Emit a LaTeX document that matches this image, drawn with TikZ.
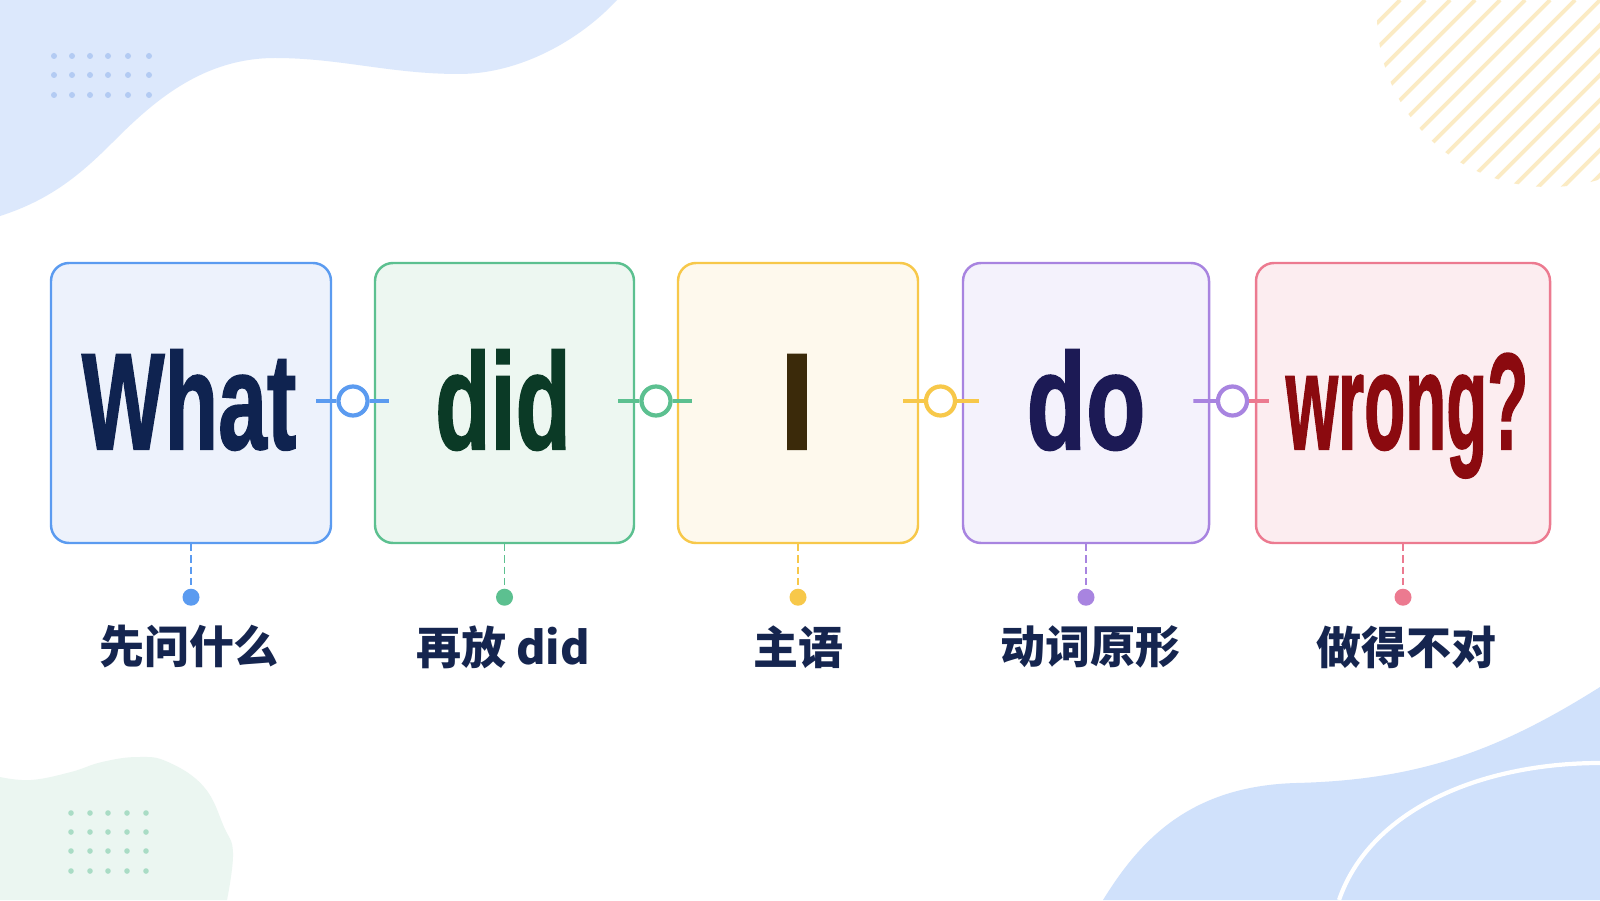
\documentclass[tikz,border=0pt]{standalone}
\usepackage{fontspec}
\usepackage{graphicx}
\setmainfont{Liberation Sans}
\newfontfamily\wordfont{Liberation Sans}[BoldFeatures={FakeBold=1.5}]
\newfontfamily\cjk{Noto Sans CJK SC}

\definecolor{blobblue}{HTML}{DCE8FC}
\definecolor{dotblue}{HTML}{B3CBF3}
\definecolor{blobmint}{HTML}{EBF6F1}
\definecolor{dotmint}{HTML}{A9DCC5}
\definecolor{stripeyellow}{HTML}{FBEBC4}
\definecolor{blobsky}{HTML}{D0E1FB}
\definecolor{blueline}{HTML}{5B9BF0}
\definecolor{bluefill}{HTML}{EDF2FC}
\definecolor{greenline}{HTML}{5CC090}
\definecolor{greenfill}{HTML}{EDF7F1}
\definecolor{yellowline}{HTML}{F7C84A}
\definecolor{yellowfill}{HTML}{FEF9ED}
\definecolor{purpleline}{HTML}{A884E0}
\definecolor{purplefill}{HTML}{F4F2FC}
\definecolor{pinkline}{HTML}{EC7A90}
\definecolor{pinkfill}{HTML}{FCEDF0}
\definecolor{whatink}{HTML}{0F2350}
\definecolor{didink}{HTML}{0B3A26}
\definecolor{iink}{HTML}{3B2A0A}
\definecolor{doink}{HTML}{1C1A55}
\definecolor{wrongink}{HTML}{8B0A0F}
\definecolor{tagink}{HTML}{15254F}

\newcommand{\wordfit}[2]{\scalebox{#1}[1]{\wordfont\fontsize{39pt}{39pt}\selectfont\bfseries #2}}

\tikzset{
  wordbox/.style={draw, rounded corners=0.18cm, line width=0.7pt, minimum height=2.8cm, inner sep=0pt},
  bigtext/.style={anchor=base, inner sep=0pt},
  hub/.style={circle, draw, fill=white, line width=1.2pt, minimum size=0.29cm, inner sep=0pt},
  link/.style={line width=1pt},
  drop/.style={line width=0.45pt, dash pattern=on 2pt off 1.2pt},
  pin/.style={circle, fill, minimum size=0.17cm, inner sep=0pt},
  tag/.style={font=\cjk\bfseries\fontsize{12.8pt}{15pt}\selectfont, text=tagink, inner sep=0pt},
  stripe/.style={stripeyellow, line width=1.1pt},
}

\begin{document}
\begin{tikzpicture}
        \useasboundingbox (0,0) rectangle (16,9);
        \fill[white] (0,0) rectangle (16,9);

        % background shapes
        \fill[blobblue] (0,6.84) .. controls (0.5,7.0) and (0.8,7.25) .. (1.12,7.57) .. controls (1.5,7.95) and (2.0,8.42) .. (2.75,8.42) .. controls (3.4,8.42) and (3.9,8.26) .. (4.59,8.26) .. controls (5.2,8.26) and (5.8,8.6) .. (6.17,9) -- (0,9) -- cycle;
        \fill[dotblue] (0.54,8.44) circle (0.03) (0.72,8.44) circle (0.03) (0.90,8.44) circle (0.03) (1.08,8.44) circle (0.03) (1.28,8.44) circle (0.03) (1.49,8.44) circle (0.03);
        \fill[dotblue] (0.54,8.25) circle (0.03) (0.72,8.25) circle (0.03) (0.90,8.25) circle (0.03) (1.08,8.25) circle (0.03) (1.28,8.25) circle (0.03) (1.49,8.25) circle (0.03);
        \fill[dotblue] (0.54,8.05) circle (0.03) (0.72,8.05) circle (0.03) (0.90,8.05) circle (0.03) (1.08,8.05) circle (0.03) (1.28,8.05) circle (0.03) (1.49,8.05) circle (0.03);

        \begin{scope}
            \clip (15.49,8.85) circle (1.72);
            \draw[stripe] (11.75,7) -- ++(2,2) (12,7) -- ++(2,2) (12.25,7) -- ++(2,2) (12.5,7) -- ++(2,2) (12.75,7) -- ++(2,2) (13,7) -- ++(2,2);
            \draw[stripe] (13.25,7) -- ++(2,2) (13.5,7) -- ++(2,2) (13.75,7) -- ++(2,2) (14,7) -- ++(2,2) (14.25,7) -- ++(2,2) (14.5,7) -- ++(2,2);
            \draw[stripe] (14.75,7) -- ++(2,2) (15,7) -- ++(2,2) (15.25,7) -- ++(2,2) (15.5,7) -- ++(2,2) (15.75,7) -- ++(2,2);
        \end{scope}

        \fill[blobmint] plot[smooth, tension=0.7] coordinates {(0,1.23) (0.31,1.20) (0.71,1.28) (1.02,1.38) (1.38,1.43) (1.68,1.38) (2.04,1.13) (2.24,0.73) (2.33,0.47) (2.27,0)} -- (0,0) -- cycle;
        \fill[dotmint] (0.71,0.87) circle (0.028) (0.90,0.87) circle (0.028) (1.08,0.87) circle (0.028) (1.27,0.87) circle (0.028) (1.46,0.87) circle (0.028);
        \fill[dotmint] (0.71,0.68) circle (0.028) (0.90,0.68) circle (0.028) (1.08,0.68) circle (0.028) (1.27,0.68) circle (0.028) (1.46,0.68) circle (0.028);
        \fill[dotmint] (0.71,0.49) circle (0.028) (0.90,0.49) circle (0.028) (1.08,0.49) circle (0.028) (1.27,0.49) circle (0.028) (1.46,0.49) circle (0.028);
        \fill[dotmint] (0.71,0.29) circle (0.028) (0.90,0.29) circle (0.028) (1.08,0.29) circle (0.028) (1.27,0.29) circle (0.028) (1.46,0.29) circle (0.028);

        \fill[blobsky] (16,2.13) .. controls (15.0,1.5) and (14.2,1.2) .. (12.96,1.17) .. controls (11.9,1.14) and (11.4,0.6) .. (11.03,0) -- (16,0) -- cycle;
        \draw[white, line width=1.2pt] (16,1.37) .. controls (14.8,1.37) and (13.7,0.9) .. (13.39,0);

        % word boxes
        \node[wordbox, draw=blueline, fill=bluefill, minimum width=2.80cm] (b1) at (1.91,4.97) {};
        \node[wordbox, draw=greenline, fill=greenfill, minimum width=2.59cm] (b2) at (5.045,4.97) {};
        \node[wordbox, draw=yellowline, fill=yellowfill, minimum width=2.40cm] (b3) at (7.98,4.97) {};
        \node[wordbox, draw=purpleline, fill=purplefill, minimum width=2.46cm] (b4) at (10.86,4.97) {};
        \node[wordbox, draw=pinkline, fill=pinkfill, minimum width=2.94cm] (b5) at (14.03,4.97) {};

        \node[bigtext, text=whatink] (t1) at (1.89,4.51) {\wordfit{0.64}{What}};
        \node[bigtext, text=didink] (t2) at (5.03,4.51) {\wordfit{0.66}{did}};
        \node[bigtext, text=iink] (t3) at (7.97,4.51) {\wordfit{0.9}{I}};
        \node[bigtext, text=doink] (t4) at (10.86,4.51) {\wordfit{0.71}{do}};
        \node[bigtext, text=wrongink] (t5) at (14.07,4.51) {\wordfit{0.49}{wrong?}};

        % connectors
        \node[hub, draw=blueline] (h1) at (3.53,4.99) {};
        \node[hub, draw=greenline] (h2) at (6.56,4.99) {};
        \node[hub, draw=yellowline] (h3) at (9.405,4.99) {};
        \node[hub, draw=purpleline] (h4) at (12.325,4.99) {};

        \draw[link, blueline] ([xshift=-0.16cm,yshift=0.02cm]b1.east) -- (h1);
        \draw[link, blueline] (h1) -- ([xshift=0.15cm,yshift=0.02cm]b2.west);
        \draw[link, greenline] ([xshift=-0.17cm,yshift=0.02cm]b2.east) -- (h2);
        \draw[link, greenline] (h2) -- ([xshift=0.15cm,yshift=0.02cm]b3.west);
        \draw[link, yellowline] ([xshift=-0.16cm,yshift=0.02cm]b3.east) -- (h3);
        \draw[link, yellowline] (h3) -- ([xshift=0.17cm,yshift=0.02cm]b4.west);
        \draw[link, purpleline] ([xshift=-0.17cm,yshift=0.02cm]b4.east) -- (h4);
        \draw[link, pinkline] (h4) -- ([xshift=0.14cm,yshift=0.02cm]b5.west);

        % pins and tags
        \node[pin, blueline] (p1) at ([yshift=-0.53cm]b1.south) {};
        \node[pin, greenline] (p2) at ([yshift=-0.53cm]b2.south) {};
        \node[pin, yellowline] (p3) at ([yshift=-0.53cm]b3.south) {};
        \node[pin, purpleline] (p4) at ([yshift=-0.53cm]b4.south) {};
        \node[pin, pinkline] (p5) at ([yshift=-0.53cm]b5.south) {};

        \draw[drop, blueline] (b1.south) -- (p1);
        \draw[drop, greenline] (b2.south) -- (p2);
        \draw[drop, yellowline] (b3.south) -- (p3);
        \draw[drop, purpleline] (b4.south) -- (p4);
        \draw[drop, pinkline] (b5.south) -- (p5);

        \node[tag] (l1) at (1.89,2.53) {先问什么};
        \node[tag] (l2) at (5.03,2.53) {再放 did};
        \node[tag] (l3) at (7.98,2.53) {主语};
        \node[tag] (l4) at (10.90,2.53) {动词原形};
        \node[tag] (l5) at (14.06,2.53) {做得不对};
\end{tikzpicture}
\end{document}
